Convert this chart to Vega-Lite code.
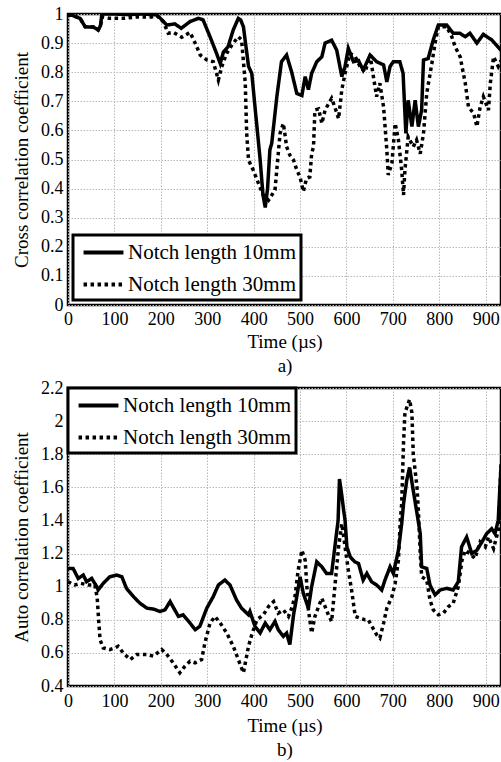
{
  "$schema": "https://vega.github.io/schema/vega-lite/v6.json",
  "padding": {"left": 11, "top": 3, "right": 0, "bottom": 0},
  "spacing": 0,
  "config": {
    "font": "Liberation Serif, Times New Roman, serif",
    "view": {"stroke": "black", "strokeWidth": 2.5},
    "axis": {
      "labelFont": "Liberation Serif, Times New Roman, serif", "labelFontSize": 18, "labelColor": "black",
      "titleFont": "Liberation Serif, Times New Roman, serif", "titleFontSize": 19, "titleFontWeight": "normal", "titleColor": "black",
      "gridColor": "#b8b8b8", "gridDash": [1.5, 1.5], "gridWidth": 1,
      "domain": false, "ticks": false, "labelPadding": 5, "labelFlush": false, "labelOverlap": false
    },
    "axisX": {"titlePadding": 4, "titleLineHeight": 24},
    "axisY": {"titlePadding": 9},
    "legend": {
      "strokeColor": "black", "strokeWidth": 3, "fillColor": "white", "padding": 5,
      "symbolType": "M-1.9,0H1.9", "symbolSize": 441, "symbolStrokeWidth": 4, "symbolStrokeColor": "black", "symbolFillColor": "transparent",
      "symbolOffset": 13,
      "labelFont": "Liberation Serif, Times New Roman, serif", "labelFontSize": 21, "labelColor": "black", "labelOffset": 12,
      "rowPadding": 9, "labelLimit": 300
    }
  },
  "vconcat": [
    {
      "width": 433, "height": 291,
      "data": {"values": [
        {"t":0,"v":0.997,"s":"Notch length 10mm"},{"t":10,"v":0.995,"s":"Notch length 10mm"},{"t":26,"v":0.985,"s":"Notch length 10mm"},{"t":37,"v":0.956,"s":"Notch length 10mm"},{"t":55,"v":0.955,"s":"Notch length 10mm"},{"t":65,"v":0.945,"s":"Notch length 10mm"},{"t":70,"v":0.96,"s":"Notch length 10mm"},{"t":73,"v":1.0,"s":"Notch length 10mm"},{"t":100,"v":1.0,"s":"Notch length 10mm"},{"t":130,"v":0.998,"s":"Notch length 10mm"},{"t":160,"v":1.0,"s":"Notch length 10mm"},{"t":191,"v":0.997,"s":"Notch length 10mm"},{"t":196,"v":0.99,"s":"Notch length 10mm"},{"t":213,"v":0.962,"s":"Notch length 10mm"},{"t":230,"v":0.966,"s":"Notch length 10mm"},{"t":244,"v":0.951,"s":"Notch length 10mm"},{"t":263,"v":0.974,"s":"Notch length 10mm"},{"t":281,"v":0.985,"s":"Notch length 10mm"},{"t":291,"v":0.98,"s":"Notch length 10mm"},{"t":306,"v":0.922,"s":"Notch length 10mm"},{"t":320,"v":0.865,"s":"Notch length 10mm"},{"t":328,"v":0.83,"s":"Notch length 10mm"},{"t":335,"v":0.87,"s":"Notch length 10mm"},{"t":345,"v":0.888,"s":"Notch length 10mm"},{"t":356,"v":0.945,"s":"Notch length 10mm"},{"t":367,"v":0.985,"s":"Notch length 10mm"},{"t":372,"v":0.98,"s":"Notch length 10mm"},{"t":378,"v":0.956,"s":"Notch length 10mm"},{"t":389,"v":0.82,"s":"Notch length 10mm"},{"t":396,"v":0.796,"s":"Notch length 10mm"},{"t":403,"v":0.68,"s":"Notch length 10mm"},{"t":414,"v":0.5,"s":"Notch length 10mm"},{"t":420,"v":0.38,"s":"Notch length 10mm"},{"t":425,"v":0.335,"s":"Notch length 10mm"},{"t":430,"v":0.4,"s":"Notch length 10mm"},{"t":435,"v":0.533,"s":"Notch length 10mm"},{"t":439,"v":0.556,"s":"Notch length 10mm"},{"t":450,"v":0.716,"s":"Notch length 10mm"},{"t":460,"v":0.836,"s":"Notch length 10mm"},{"t":471,"v":0.859,"s":"Notch length 10mm"},{"t":482,"v":0.8,"s":"Notch length 10mm"},{"t":493,"v":0.727,"s":"Notch length 10mm"},{"t":504,"v":0.72,"s":"Notch length 10mm"},{"t":511,"v":0.785,"s":"Notch length 10mm"},{"t":518,"v":0.74,"s":"Notch length 10mm"},{"t":525,"v":0.796,"s":"Notch length 10mm"},{"t":536,"v":0.836,"s":"Notch length 10mm"},{"t":547,"v":0.853,"s":"Notch length 10mm"},{"t":554,"v":0.9,"s":"Notch length 10mm"},{"t":568,"v":0.91,"s":"Notch length 10mm"},{"t":579,"v":0.876,"s":"Notch length 10mm"},{"t":590,"v":0.785,"s":"Notch length 10mm"},{"t":597,"v":0.82,"s":"Notch length 10mm"},{"t":604,"v":0.882,"s":"Notch length 10mm"},{"t":615,"v":0.836,"s":"Notch length 10mm"},{"t":626,"v":0.84,"s":"Notch length 10mm"},{"t":636,"v":0.807,"s":"Notch length 10mm"},{"t":651,"v":0.859,"s":"Notch length 10mm"},{"t":665,"v":0.836,"s":"Notch length 10mm"},{"t":680,"v":0.825,"s":"Notch length 10mm"},{"t":687,"v":0.767,"s":"Notch length 10mm"},{"t":694,"v":0.82,"s":"Notch length 10mm"},{"t":701,"v":0.836,"s":"Notch length 10mm"},{"t":715,"v":0.836,"s":"Notch length 10mm"},{"t":722,"v":0.796,"s":"Notch length 10mm"},{"t":728,"v":0.59,"s":"Notch length 10mm"},{"t":733,"v":0.704,"s":"Notch length 10mm"},{"t":741,"v":0.613,"s":"Notch length 10mm"},{"t":748,"v":0.704,"s":"Notch length 10mm"},{"t":755,"v":0.613,"s":"Notch length 10mm"},{"t":762,"v":0.67,"s":"Notch length 10mm"},{"t":766,"v":0.842,"s":"Notch length 10mm"},{"t":776,"v":0.847,"s":"Notch length 10mm"},{"t":787,"v":0.911,"s":"Notch length 10mm"},{"t":798,"v":0.962,"s":"Notch length 10mm"},{"t":816,"v":0.962,"s":"Notch length 10mm"},{"t":830,"v":0.934,"s":"Notch length 10mm"},{"t":844,"v":0.934,"s":"Notch length 10mm"},{"t":856,"v":0.922,"s":"Notch length 10mm"},{"t":866,"v":0.934,"s":"Notch length 10mm"},{"t":881,"v":0.9,"s":"Notch length 10mm"},{"t":895,"v":0.93,"s":"Notch length 10mm"},{"t":913,"v":0.911,"s":"Notch length 10mm"},{"t":933,"v":0.875,"s":"Notch length 10mm"},
        {"t":0,"v":0.997,"s":"Notch length 30mm"},{"t":10,"v":0.995,"s":"Notch length 30mm"},{"t":26,"v":0.985,"s":"Notch length 30mm"},{"t":37,"v":0.956,"s":"Notch length 30mm"},{"t":55,"v":0.955,"s":"Notch length 30mm"},{"t":65,"v":0.945,"s":"Notch length 30mm"},{"t":70,"v":0.96,"s":"Notch length 30mm"},{"t":73,"v":0.99,"s":"Notch length 30mm"},{"t":90,"v":0.985,"s":"Notch length 30mm"},{"t":120,"v":0.985,"s":"Notch length 30mm"},{"t":150,"v":0.99,"s":"Notch length 30mm"},{"t":180,"v":0.99,"s":"Notch length 30mm"},{"t":191,"v":0.995,"s":"Notch length 30mm"},{"t":205,"v":0.974,"s":"Notch length 30mm"},{"t":216,"v":0.934,"s":"Notch length 30mm"},{"t":227,"v":0.937,"s":"Notch length 30mm"},{"t":245,"v":0.92,"s":"Notch length 30mm"},{"t":263,"v":0.937,"s":"Notch length 30mm"},{"t":274,"v":0.9,"s":"Notch length 30mm"},{"t":285,"v":0.859,"s":"Notch length 30mm"},{"t":299,"v":0.842,"s":"Notch length 30mm"},{"t":313,"v":0.836,"s":"Notch length 30mm"},{"t":324,"v":0.773,"s":"Notch length 30mm"},{"t":331,"v":0.818,"s":"Notch length 30mm"},{"t":342,"v":0.865,"s":"Notch length 30mm"},{"t":353,"v":0.893,"s":"Notch length 30mm"},{"t":367,"v":0.922,"s":"Notch length 30mm"},{"t":374,"v":0.911,"s":"Notch length 30mm"},{"t":382,"v":0.762,"s":"Notch length 30mm"},{"t":385,"v":0.59,"s":"Notch length 30mm"},{"t":389,"v":0.498,"s":"Notch length 30mm"},{"t":399,"v":0.464,"s":"Notch length 30mm"},{"t":410,"v":0.42,"s":"Notch length 30mm"},{"t":420,"v":0.38,"s":"Notch length 30mm"},{"t":432,"v":0.36,"s":"Notch length 30mm"},{"t":446,"v":0.395,"s":"Notch length 30mm"},{"t":453,"v":0.52,"s":"Notch length 30mm"},{"t":457,"v":0.59,"s":"Notch length 30mm"},{"t":464,"v":0.624,"s":"Notch length 30mm"},{"t":468,"v":0.58,"s":"Notch length 30mm"},{"t":471,"v":0.544,"s":"Notch length 30mm"},{"t":478,"v":0.515,"s":"Notch length 30mm"},{"t":486,"v":0.498,"s":"Notch length 30mm"},{"t":493,"v":0.464,"s":"Notch length 30mm"},{"t":500,"v":0.44,"s":"Notch length 30mm"},{"t":507,"v":0.39,"s":"Notch length 30mm"},{"t":514,"v":0.435,"s":"Notch length 30mm"},{"t":521,"v":0.44,"s":"Notch length 30mm"},{"t":525,"v":0.52,"s":"Notch length 30mm"},{"t":529,"v":0.544,"s":"Notch length 30mm"},{"t":532,"v":0.67,"s":"Notch length 30mm"},{"t":540,"v":0.674,"s":"Notch length 30mm"},{"t":547,"v":0.624,"s":"Notch length 30mm"},{"t":554,"v":0.67,"s":"Notch length 30mm"},{"t":568,"v":0.71,"s":"Notch length 30mm"},{"t":575,"v":0.68,"s":"Notch length 30mm"},{"t":583,"v":0.64,"s":"Notch length 30mm"},{"t":590,"v":0.74,"s":"Notch length 30mm"},{"t":597,"v":0.796,"s":"Notch length 30mm"},{"t":608,"v":0.865,"s":"Notch length 30mm"},{"t":619,"v":0.853,"s":"Notch length 30mm"},{"t":629,"v":0.82,"s":"Notch length 30mm"},{"t":640,"v":0.8,"s":"Notch length 30mm"},{"t":651,"v":0.859,"s":"Notch length 30mm"},{"t":658,"v":0.785,"s":"Notch length 30mm"},{"t":665,"v":0.716,"s":"Notch length 30mm"},{"t":672,"v":0.762,"s":"Notch length 30mm"},{"t":680,"v":0.68,"s":"Notch length 30mm"},{"t":687,"v":0.533,"s":"Notch length 30mm"},{"t":690,"v":0.447,"s":"Notch length 30mm"},{"t":698,"v":0.488,"s":"Notch length 30mm"},{"t":705,"v":0.624,"s":"Notch length 30mm"},{"t":712,"v":0.567,"s":"Notch length 30mm"},{"t":719,"v":0.464,"s":"Notch length 30mm"},{"t":723,"v":0.378,"s":"Notch length 30mm"},{"t":726,"v":0.464,"s":"Notch length 30mm"},{"t":733,"v":0.578,"s":"Notch length 30mm"},{"t":744,"v":0.544,"s":"Notch length 30mm"},{"t":751,"v":0.567,"s":"Notch length 30mm"},{"t":759,"v":0.52,"s":"Notch length 30mm"},{"t":766,"v":0.59,"s":"Notch length 30mm"},{"t":773,"v":0.727,"s":"Notch length 30mm"},{"t":784,"v":0.83,"s":"Notch length 30mm"},{"t":791,"v":0.9,"s":"Notch length 30mm"},{"t":798,"v":0.956,"s":"Notch length 30mm"},{"t":816,"v":0.956,"s":"Notch length 30mm"},{"t":827,"v":0.922,"s":"Notch length 30mm"},{"t":834,"v":0.888,"s":"Notch length 30mm"},{"t":845,"v":0.853,"s":"Notch length 30mm"},{"t":856,"v":0.762,"s":"Notch length 30mm"},{"t":863,"v":0.68,"s":"Notch length 30mm"},{"t":874,"v":0.659,"s":"Notch length 30mm"},{"t":881,"v":0.613,"s":"Notch length 30mm"},{"t":888,"v":0.68,"s":"Notch length 30mm"},{"t":895,"v":0.716,"s":"Notch length 30mm"},{"t":906,"v":0.67,"s":"Notch length 30mm"},{"t":910,"v":0.762,"s":"Notch length 30mm"},{"t":917,"v":0.853,"s":"Notch length 30mm"},{"t":927,"v":0.82,"s":"Notch length 30mm"},{"t":933,"v":0.84,"s":"Notch length 30mm"}
      ]},
      "mark": {"type": "line", "color": "black", "strokeWidth": 3.5, "clip": true},
      "encoding": {
        "x": {"field": "t", "type": "quantitative", "scale": {"domain": [0, 933], "nice": false},
              "axis": {"values": [0,100,200,300,400,500,600,700,800,900], "title": ["Time (µs)", "a)"]}},
        "y": {"field": "v", "type": "quantitative", "scale": {"domain": [0, 1], "nice": false},
              "axis": {"values": [0,0.1,0.2,0.3,0.4,0.5,0.6,0.7,0.8,0.9,1], "format": "~g", "title": "Cross correlation coefficient"}},
        "strokeDash": {"field": "s", "type": "nominal",
              "scale": {"domain": ["Notch length 10mm", "Notch length 30mm"], "range": [[1, 0], [3.5, 3.5]]},
              "legend": {"title": null, "orient": "bottom-left", "offset": 5}}
      }
    },
    {
      "width": 433, "height": 298,
      "data": {"values": [
        {"t":0,"v":1.11,"s":"Notch length 10mm"},{"t":11,"v":1.11,"s":"Notch length 10mm"},{"t":22,"v":1.05,"s":"Notch length 10mm"},{"t":33,"v":1.07,"s":"Notch length 10mm"},{"t":40,"v":1.03,"s":"Notch length 10mm"},{"t":51,"v":1.05,"s":"Notch length 10mm"},{"t":62,"v":1.0,"s":"Notch length 10mm"},{"t":65,"v":0.98,"s":"Notch length 10mm"},{"t":76,"v":1.02,"s":"Notch length 10mm"},{"t":90,"v":1.06,"s":"Notch length 10mm"},{"t":105,"v":1.07,"s":"Notch length 10mm"},{"t":116,"v":1.06,"s":"Notch length 10mm"},{"t":126,"v":0.99,"s":"Notch length 10mm"},{"t":141,"v":0.94,"s":"Notch length 10mm"},{"t":155,"v":0.9,"s":"Notch length 10mm"},{"t":170,"v":0.87,"s":"Notch length 10mm"},{"t":184,"v":0.865,"s":"Notch length 10mm"},{"t":198,"v":0.85,"s":"Notch length 10mm"},{"t":209,"v":0.86,"s":"Notch length 10mm"},{"t":220,"v":0.91,"s":"Notch length 10mm"},{"t":227,"v":0.875,"s":"Notch length 10mm"},{"t":238,"v":0.82,"s":"Notch length 10mm"},{"t":248,"v":0.83,"s":"Notch length 10mm"},{"t":263,"v":0.78,"s":"Notch length 10mm"},{"t":274,"v":0.74,"s":"Notch length 10mm"},{"t":284,"v":0.76,"s":"Notch length 10mm"},{"t":299,"v":0.87,"s":"Notch length 10mm"},{"t":313,"v":0.94,"s":"Notch length 10mm"},{"t":324,"v":1.01,"s":"Notch length 10mm"},{"t":338,"v":1.04,"s":"Notch length 10mm"},{"t":349,"v":1.01,"s":"Notch length 10mm"},{"t":363,"v":0.92,"s":"Notch length 10mm"},{"t":374,"v":0.87,"s":"Notch length 10mm"},{"t":389,"v":0.83,"s":"Notch length 10mm"},{"t":392,"v":0.85,"s":"Notch length 10mm"},{"t":403,"v":0.76,"s":"Notch length 10mm"},{"t":414,"v":0.72,"s":"Notch length 10mm"},{"t":425,"v":0.78,"s":"Notch length 10mm"},{"t":435,"v":0.74,"s":"Notch length 10mm"},{"t":446,"v":0.79,"s":"Notch length 10mm"},{"t":453,"v":0.74,"s":"Notch length 10mm"},{"t":464,"v":0.7,"s":"Notch length 10mm"},{"t":471,"v":0.72,"s":"Notch length 10mm"},{"t":478,"v":0.65,"s":"Notch length 10mm"},{"t":486,"v":0.83,"s":"Notch length 10mm"},{"t":493,"v":0.94,"s":"Notch length 10mm"},{"t":500,"v":1.06,"s":"Notch length 10mm"},{"t":507,"v":0.96,"s":"Notch length 10mm"},{"t":518,"v":0.87,"s":"Notch length 10mm"},{"t":525,"v":1.0,"s":"Notch length 10mm"},{"t":536,"v":1.15,"s":"Notch length 10mm"},{"t":547,"v":1.12,"s":"Notch length 10mm"},{"t":557,"v":1.08,"s":"Notch length 10mm"},{"t":568,"v":1.08,"s":"Notch length 10mm"},{"t":575,"v":1.24,"s":"Notch length 10mm"},{"t":582,"v":1.4,"s":"Notch length 10mm"},{"t":585,"v":1.65,"s":"Notch length 10mm"},{"t":590,"v":1.55,"s":"Notch length 10mm"},{"t":594,"v":1.46,"s":"Notch length 10mm"},{"t":597,"v":1.4,"s":"Notch length 10mm"},{"t":601,"v":1.24,"s":"Notch length 10mm"},{"t":608,"v":1.18,"s":"Notch length 10mm"},{"t":618,"v":1.15,"s":"Notch length 10mm"},{"t":626,"v":1.14,"s":"Notch length 10mm"},{"t":636,"v":1.04,"s":"Notch length 10mm"},{"t":644,"v":1.08,"s":"Notch length 10mm"},{"t":654,"v":1.03,"s":"Notch length 10mm"},{"t":665,"v":1.01,"s":"Notch length 10mm"},{"t":676,"v":0.98,"s":"Notch length 10mm"},{"t":683,"v":1.04,"s":"Notch length 10mm"},{"t":694,"v":1.12,"s":"Notch length 10mm"},{"t":701,"v":1.08,"s":"Notch length 10mm"},{"t":712,"v":1.22,"s":"Notch length 10mm"},{"t":719,"v":1.38,"s":"Notch length 10mm"},{"t":723,"v":1.5,"s":"Notch length 10mm"},{"t":730,"v":1.644,"s":"Notch length 10mm"},{"t":736,"v":1.72,"s":"Notch length 10mm"},{"t":744,"v":1.58,"s":"Notch length 10mm"},{"t":751,"v":1.46,"s":"Notch length 10mm"},{"t":759,"v":1.32,"s":"Notch length 10mm"},{"t":762,"v":1.12,"s":"Notch length 10mm"},{"t":773,"v":1.11,"s":"Notch length 10mm"},{"t":780,"v":1.01,"s":"Notch length 10mm"},{"t":791,"v":0.95,"s":"Notch length 10mm"},{"t":802,"v":0.98,"s":"Notch length 10mm"},{"t":816,"v":0.99,"s":"Notch length 10mm"},{"t":830,"v":0.98,"s":"Notch length 10mm"},{"t":841,"v":1.03,"s":"Notch length 10mm"},{"t":848,"v":1.24,"s":"Notch length 10mm"},{"t":859,"v":1.3,"s":"Notch length 10mm"},{"t":870,"v":1.2,"s":"Notch length 10mm"},{"t":881,"v":1.22,"s":"Notch length 10mm"},{"t":892,"v":1.27,"s":"Notch length 10mm"},{"t":902,"v":1.32,"s":"Notch length 10mm"},{"t":913,"v":1.35,"s":"Notch length 10mm"},{"t":920,"v":1.32,"s":"Notch length 10mm"},{"t":927,"v":1.4,"s":"Notch length 10mm"},{"t":931,"v":1.62,"s":"Notch length 10mm"},{"t":933,"v":1.72,"s":"Notch length 10mm"},
        {"t":0,"v":1.03,"s":"Notch length 30mm"},{"t":14,"v":1.01,"s":"Notch length 30mm"},{"t":28,"v":1.02,"s":"Notch length 30mm"},{"t":43,"v":1.01,"s":"Notch length 30mm"},{"t":58,"v":1.01,"s":"Notch length 30mm"},{"t":63,"v":0.93,"s":"Notch length 30mm"},{"t":66,"v":0.8,"s":"Notch length 30mm"},{"t":69,"v":0.68,"s":"Notch length 30mm"},{"t":76,"v":0.63,"s":"Notch length 30mm"},{"t":90,"v":0.62,"s":"Notch length 30mm"},{"t":101,"v":0.63,"s":"Notch length 30mm"},{"t":108,"v":0.64,"s":"Notch length 30mm"},{"t":119,"v":0.6,"s":"Notch length 30mm"},{"t":134,"v":0.56,"s":"Notch length 30mm"},{"t":148,"v":0.59,"s":"Notch length 30mm"},{"t":170,"v":0.59,"s":"Notch length 30mm"},{"t":184,"v":0.58,"s":"Notch length 30mm"},{"t":202,"v":0.62,"s":"Notch length 30mm"},{"t":213,"v":0.59,"s":"Notch length 30mm"},{"t":224,"v":0.55,"s":"Notch length 30mm"},{"t":241,"v":0.48,"s":"Notch length 30mm"},{"t":252,"v":0.52,"s":"Notch length 30mm"},{"t":263,"v":0.55,"s":"Notch length 30mm"},{"t":274,"v":0.54,"s":"Notch length 30mm"},{"t":288,"v":0.56,"s":"Notch length 30mm"},{"t":295,"v":0.66,"s":"Notch length 30mm"},{"t":306,"v":0.78,"s":"Notch length 30mm"},{"t":317,"v":0.82,"s":"Notch length 30mm"},{"t":328,"v":0.78,"s":"Notch length 30mm"},{"t":342,"v":0.72,"s":"Notch length 30mm"},{"t":356,"v":0.64,"s":"Notch length 30mm"},{"t":367,"v":0.56,"s":"Notch length 30mm"},{"t":378,"v":0.48,"s":"Notch length 30mm"},{"t":389,"v":0.64,"s":"Notch length 30mm"},{"t":396,"v":0.71,"s":"Notch length 30mm"},{"t":407,"v":0.8,"s":"Notch length 30mm"},{"t":421,"v":0.83,"s":"Notch length 30mm"},{"t":432,"v":0.88,"s":"Notch length 30mm"},{"t":443,"v":0.91,"s":"Notch length 30mm"},{"t":453,"v":0.84,"s":"Notch length 30mm"},{"t":464,"v":0.86,"s":"Notch length 30mm"},{"t":475,"v":0.82,"s":"Notch length 30mm"},{"t":482,"v":0.87,"s":"Notch length 30mm"},{"t":489,"v":0.94,"s":"Notch length 30mm"},{"t":496,"v":1.1,"s":"Notch length 30mm"},{"t":504,"v":1.22,"s":"Notch length 30mm"},{"t":511,"v":1.16,"s":"Notch length 30mm"},{"t":518,"v":0.86,"s":"Notch length 30mm"},{"t":525,"v":0.72,"s":"Notch length 30mm"},{"t":532,"v":0.82,"s":"Notch length 30mm"},{"t":540,"v":0.88,"s":"Notch length 30mm"},{"t":547,"v":0.93,"s":"Notch length 30mm"},{"t":554,"v":0.88,"s":"Notch length 30mm"},{"t":561,"v":0.83,"s":"Notch length 30mm"},{"t":568,"v":0.79,"s":"Notch length 30mm"},{"t":575,"v":1.0,"s":"Notch length 30mm"},{"t":583,"v":1.24,"s":"Notch length 30mm"},{"t":590,"v":1.38,"s":"Notch length 30mm"},{"t":597,"v":1.24,"s":"Notch length 30mm"},{"t":604,"v":1.1,"s":"Notch length 30mm"},{"t":611,"v":0.98,"s":"Notch length 30mm"},{"t":619,"v":0.82,"s":"Notch length 30mm"},{"t":629,"v":0.81,"s":"Notch length 30mm"},{"t":640,"v":0.8,"s":"Notch length 30mm"},{"t":647,"v":0.8,"s":"Notch length 30mm"},{"t":655,"v":0.76,"s":"Notch length 30mm"},{"t":665,"v":0.71,"s":"Notch length 30mm"},{"t":672,"v":0.69,"s":"Notch length 30mm"},{"t":680,"v":0.78,"s":"Notch length 30mm"},{"t":687,"v":0.87,"s":"Notch length 30mm"},{"t":698,"v":0.94,"s":"Notch length 30mm"},{"t":705,"v":1.02,"s":"Notch length 30mm"},{"t":712,"v":1.16,"s":"Notch length 30mm"},{"t":716,"v":1.4,"s":"Notch length 30mm"},{"t":719,"v":1.5,"s":"Notch length 30mm"},{"t":723,"v":1.87,"s":"Notch length 30mm"},{"t":726,"v":2.05,"s":"Notch length 30mm"},{"t":736,"v":2.13,"s":"Notch length 30mm"},{"t":741,"v":2.05,"s":"Notch length 30mm"},{"t":744,"v":1.8,"s":"Notch length 30mm"},{"t":752,"v":1.6,"s":"Notch length 30mm"},{"t":755,"v":1.46,"s":"Notch length 30mm"},{"t":759,"v":1.2,"s":"Notch length 30mm"},{"t":762,"v":1.06,"s":"Notch length 30mm"},{"t":773,"v":1.04,"s":"Notch length 30mm"},{"t":780,"v":0.92,"s":"Notch length 30mm"},{"t":787,"v":0.86,"s":"Notch length 30mm"},{"t":798,"v":0.83,"s":"Notch length 30mm"},{"t":809,"v":0.84,"s":"Notch length 30mm"},{"t":820,"v":0.88,"s":"Notch length 30mm"},{"t":830,"v":0.9,"s":"Notch length 30mm"},{"t":841,"v":1.0,"s":"Notch length 30mm"},{"t":849,"v":1.16,"s":"Notch length 30mm"},{"t":856,"v":1.22,"s":"Notch length 30mm"},{"t":866,"v":1.2,"s":"Notch length 30mm"},{"t":877,"v":1.17,"s":"Notch length 30mm"},{"t":888,"v":1.27,"s":"Notch length 30mm"},{"t":899,"v":1.24,"s":"Notch length 30mm"},{"t":906,"v":1.3,"s":"Notch length 30mm"},{"t":917,"v":1.23,"s":"Notch length 30mm"},{"t":927,"v":1.34,"s":"Notch length 30mm"},{"t":930,"v":1.5,"s":"Notch length 30mm"},{"t":933,"v":1.75,"s":"Notch length 30mm"}
      ]},
      "mark": {"type": "line", "color": "black", "strokeWidth": 3.5, "clip": true},
      "encoding": {
        "x": {"field": "t", "type": "quantitative", "scale": {"domain": [0, 933], "nice": false},
              "axis": {"values": [0,100,200,300,400,500,600,700,800,900], "title": ["Time (µs)", "b)"], "labelPadding": 6, "titlePadding": 6, "titleLineHeight": 24}},
        "y": {"field": "v", "type": "quantitative", "scale": {"domain": [0.4, 2.2], "nice": false, "zero": false},
              "axis": {"values": [0.4,0.6,0.8,1,1.2,1.4,1.6,1.8,2,2.2], "format": "~g", "title": "Auto correlation coefficient"}},
        "strokeDash": {"field": "s", "type": "nominal",
              "scale": {"domain": ["Notch length 10mm", "Notch length 30mm"], "range": [[1, 0], [3.5, 3.5]]},
              "legend": {"title": null, "orient": "top-left", "offset": 0}}
      }
    }
  ],
  "resolve": {"scale": {"strokeDash": "independent"}, "legend": {"strokeDash": "independent"}}
}
